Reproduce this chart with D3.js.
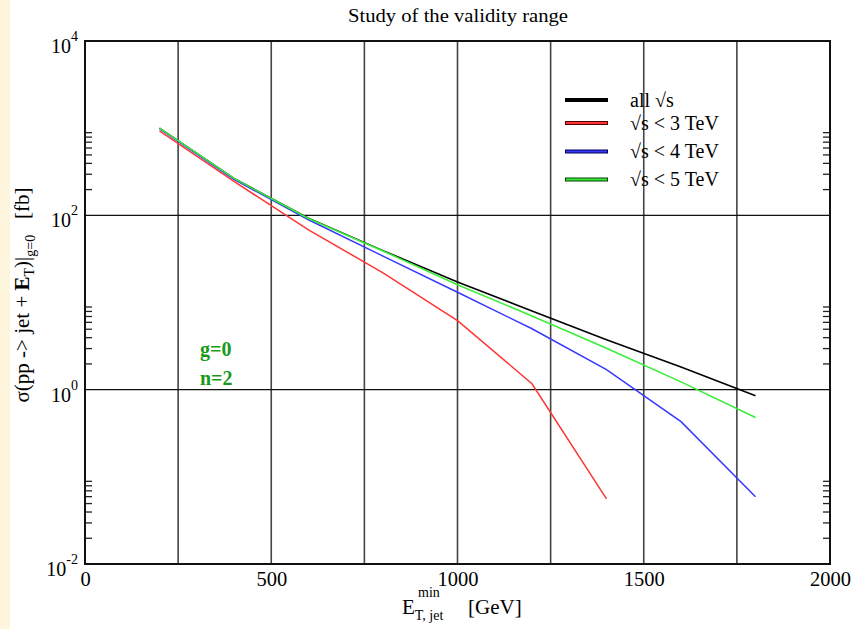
<!DOCTYPE html>
<html><head><meta charset="utf-8">
<script src="https://cdn.jsdelivr.net/npm/d3@7"></script>
<style>body{margin:0;background:#fff;} svg{display:block;} text{font-family:"Liberation Serif","DejaVu Serif",serif;}</style>
</head><body>
<script>
const energies = [200, 400, 600, 800, 1000, 1200, 1400, 1600, 1800];
const allS   = [1000, 265, 93, 39.4, 17.2, 8.0, 3.74, 1.82, 0.85];
const s3TeV  = [930, 245, 68, 21.9, 6.2, 1.17, 0.056];
const s4TeV  = [990, 258, 89, 34.1, 13.1, 5.0, 1.70, 0.43, 0.059];
const s5TeV  = [1000, 265, 92, 39, 16.0, 7.0, 2.99, 1.23, 0.48];
const seriesNames = ["all \u221As", "\u221As < 3 TeV", "\u221As < 4 TeV", "\u221As < 5 TeV"];
const seriesColors = ["#000000", "#ff3535", "#3838ff", "#38ee38"];
const legendEdge = ["#000000", "#500000", "#000050", "#004000"];
const xTicks = [0, 500, 1000, 1500, 2000];
const xGrid = [250, 500, 750, 1000, 1250, 1500, 1750];
const yMajor = [1e-2, 1, 1e2, 1e4];
const yExp = [-2, 0, 2, 4];
const yGrid = [1, 1e2];

const W = 854, H = 629;
const svg = d3.select("body").append("svg").attr("width", W).attr("height", H);
svg.append("rect").attr("x",0).attr("y",0).attr("width",10).attr("height",H).attr("fill","#fdf6dc");

const L = 85, R = 830, T = 41, B = 564;
const x = d3.scaleLinear().domain([0, 2000]).range([L, R]);
const y = d3.scaleLog().domain([1e-2, 1e4]).range([B, T]);

// grid
const grid = svg.append("g");
grid.selectAll("line.v").data(xGrid).join("line")
  .attr("x1", d => x(d)).attr("x2", d => x(d)).attr("y1", T).attr("y2", B)
  .attr("stroke", "#444").attr("stroke-width", 1.6);
grid.selectAll("line.h").data(yGrid).join("line")
  .attr("x1", L).attr("x2", R).attr("y1", d => y(d)).attr("y2", d => y(d))
  .attr("stroke", "#111").attr("stroke-width", 1.4);

// minor ticks
const minor = [];
[-2, 0, 2].forEach(k => { for (let m = 2; m <= 9; m++) minor.push(m * Math.pow(10, k)); });
const yl = d3.axisLeft(y).tickValues(minor).tickSize(-7).tickFormat("");
const yr = d3.axisRight(y).tickValues(minor).tickSize(-7).tickFormat("");
const gl = svg.append("g").attr("transform", `translate(${L},0)`).call(yl);
const gr = svg.append("g").attr("transform", `translate(${R},0)`).call(yr);
[gl, gr].forEach(g => { g.select(".domain").remove(); g.selectAll("line").attr("stroke", "#222").attr("stroke-width", 1.3); });

// frame
svg.append("rect").attr("x", L).attr("y", T).attr("width", R - L).attr("height", B - T)
  .attr("fill", "none").attr("stroke", "#111").attr("stroke-width", 2);

// x tick labels
const xa = d3.axisBottom(x).tickValues(xTicks).tickSize(0).tickPadding(7).tickFormat(d3.format("d"));
const gx = svg.append("g").attr("transform", `translate(0,${B})`).call(xa);
gx.select(".domain").remove();
gx.selectAll("text").attr("font-family", "Liberation Serif, serif").attr("font-size", 20.5).attr("fill", "#000");

// y tick labels
const ylab = svg.append("g");
yMajor.forEach((v, i) => {
  const t = ylab.append("text").attr("x", 78).attr("y", y(v) + 12).attr("text-anchor", "end")
    .attr("font-size", 20).attr("fill", "#000");
  t.append("tspan").text("10");
  t.append("tspan").attr("dy", -12).attr("font-size", 14).text(String(yExp[i]));
});

// lines
const allSeries = [allS, s3TeV, s4TeV, s5TeV];
const line = d3.line().x(d => x(d[0])).y(d => y(d[1]));
const drawOrder = [0, 1, 2, 3];
drawOrder.forEach(i => {
  const data = allSeries[i].map((v, j) => [energies[j], v]);
  svg.append("path").attr("d", line(data)).attr("fill", "none")
    .attr("stroke", seriesColors[i]).attr("stroke-width", 1.5);
});

// legend
const legY = [100, 123, 151.5, 179.5];
seriesNames.forEach((n, i) => {
  svg.append("line").attr("x1", 565).attr("x2", 608).attr("y1", legY[i]).attr("y2", legY[i])
    .attr("stroke", legendEdge[i]).attr("stroke-width", 4);
  if (i > 0) svg.append("line").attr("x1", 566).attr("x2", 607).attr("y1", legY[i]).attr("y2", legY[i])
    .attr("stroke", seriesColors[i]).attr("stroke-width", 2);
  svg.append("text").attr("x", 630).attr("y", legY[i] + 6.5).attr("font-size", 20).attr("fill", "#000").text(n);
});

// annotations
svg.append("text").attr("x", 200).attr("y", 356).attr("font-size", 20).attr("font-weight", "bold")
  .attr("fill", "#1a9a1a").text("g=0");
svg.append("text").attr("x", 200).attr("y", 385).attr("font-size", 20).attr("font-weight", "bold")
  .attr("fill", "#1a9a1a").text("n=2");

// title
svg.append("text").attr("x", 458).attr("y", 22).attr("text-anchor", "middle").attr("font-size", 19)
  .attr("textLength", 220).attr("lengthAdjust", "spacingAndGlyphs")
  .attr("fill", "#000").text("Study of the validity range");

// x label
const xl = svg.append("text").attr("x", 402).attr("y", 614).attr("font-size", 21).attr("fill", "#000");
xl.append("tspan").text("E");
xl.append("tspan").attr("dy", 6).attr("font-size", 14).text("T, jet");
xl.append("tspan").attr("x", 418).attr("dy", -23).attr("font-size", 14).text("min");
xl.append("tspan").attr("x", 468).attr("dy", 17).text("[GeV]");

// y label
const yt = svg.append("text").attr("transform", "translate(29,295) rotate(-90)").attr("text-anchor", "middle")
  .attr("font-size", 21).attr("fill", "#000");
yt.append("tspan").text("\u03C3(pp -> jet + ");
yt.append("tspan").attr("font-weight", "bold").text("E");
yt.append("tspan").attr("dy", 5).attr("font-size", 14).text("T");
yt.append("tspan").attr("dy", -5).text(")|");
yt.append("tspan").attr("dy", 6).attr("font-size", 14).text("g=0");
yt.append("tspan").attr("dy", -6).text("\u00A0\u00A0\u00A0[fb]");
</script>
</body></html>
